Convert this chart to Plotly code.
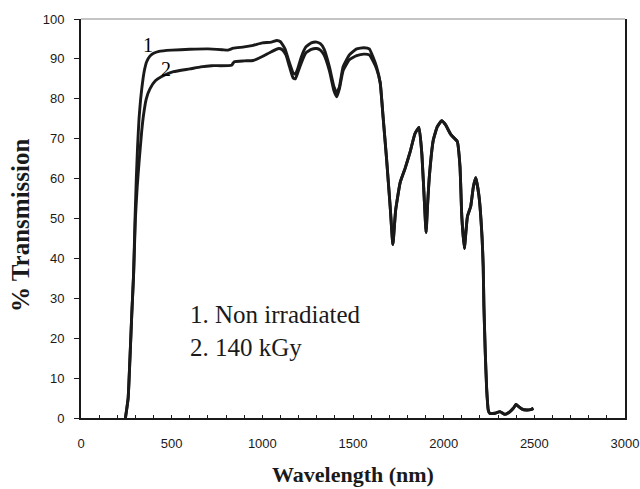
import plotly.graph_objects as go

# Wavelength (nm) and % transmission for the non-irradiated sample
wl_1 = [245, 260, 270, 280, 290, 298, 305, 312, 320, 328, 335, 342, 350, 362, 380, 400, 430,
        500, 600, 700, 780, 810, 840, 900, 950, 1000, 1050, 1080, 1100, 1125, 1150, 1170, 1182,
        1195, 1215, 1240, 1270, 1300, 1320, 1340, 1370, 1395, 1410, 1425, 1445, 1480, 1520, 1560,
        1590, 1610, 1630, 1650, 1665, 1685, 1705, 1720, 1735, 1760, 1787, 1815, 1842, 1864, 1880,
        1895, 1903, 1912, 1921, 1943, 1965, 1989, 2010, 2040, 2075, 2090, 2100, 2114, 2131, 2149,
        2164, 2177, 2195, 2212, 2218, 2222, 2229, 2237, 2246, 2254, 2283, 2310, 2338, 2366, 2385,
        2399, 2415, 2430, 2457, 2480, 2495]
tr_1 = [0, 5, 15, 26, 36, 50, 60, 68, 75, 79.5, 82.5, 85, 87.2, 89.3, 90.7, 91.4, 91.9,
        92.2, 92.4, 92.5, 92.3, 92.2, 92.7, 93, 93.4, 94, 94.2, 94.6, 94.3, 92.5, 89, 86.5, 86.2,
        87.5, 90.5, 93, 94, 94.2, 93.8, 92.5, 88, 83, 81.5, 83, 88, 91, 92.5, 92.8,
        92.5, 90.5, 88, 84, 76, 65, 53, 43.5, 52, 59, 62.5, 66.7, 71.3, 72.8, 66,
        53, 46.5, 54, 60.5, 69.7, 73, 74.5, 73.5, 71, 69.3, 63, 50.5, 42.5, 50.5, 53,
        58, 60.2, 55.5, 45, 38, 28, 17, 7.4, 2, 1.2, 1.2, 1.6, 0.9, 1.6, 2.5,
        3.4, 2.8, 2.3, 2, 2.1, 2.4]

# Wavelength (nm) and % transmission after 140 kGy
wl_2 = [245, 260, 270, 280, 290, 300, 310, 320, 335, 345, 360, 380, 410, 445, 510, 600,
        660, 720, 830, 845, 900, 950, 1000, 1050, 1090, 1110, 1130, 1150, 1170, 1182, 1195, 1215,
        1240, 1270, 1300, 1320, 1340, 1370, 1395, 1410, 1425, 1445, 1480, 1520, 1560, 1590, 1610,
        1630, 1650, 1665, 1685, 1705, 1720, 1735, 1760, 1787, 1815, 1842, 1864, 1880,
        1895, 1903, 1912, 1921, 1943, 1965, 1989, 2010, 2040, 2075, 2090, 2100, 2114, 2131, 2149,
        2164, 2177, 2195, 2212, 2218, 2222, 2229, 2237, 2246, 2254, 2283, 2310, 2338, 2366, 2385,
        2399, 2415, 2430, 2457, 2480, 2495]
tr_2 = [0, 5, 15, 26, 36, 50, 58, 64, 72, 76, 80, 82.5, 84.5, 85.6, 86.8, 87.5,
        88, 88.3, 88.4, 89.3, 89.5, 89.6, 90.6, 91.8, 92.6, 92.3, 91, 88, 85.2, 85, 86.5, 89,
        91.5, 92.4, 92.6, 92.2, 91, 87, 82, 80.5, 82.5, 87, 89.8, 90.8, 91.2, 91, 89.5,
        87.5, 84, 76, 65, 53, 43.5, 52, 59, 62.5, 66.7, 71.3, 72.8, 66,
        53, 46.5, 54, 60.5, 69.7, 73, 74.5, 73.5, 71, 69.3, 63, 50.5, 42.5, 50.5, 53,
        58, 60.2, 55.5, 45, 38, 28, 17, 7.4, 2, 1.2, 1.2, 1.6, 0.9, 1.6, 2.5,
        3.4, 2.8, 2.3, 2, 2.1, 2.4]

x_ticks = [0, 500, 1000, 1500, 2000, 2500, 3000]
y_ticks = [0, 10, 20, 30, 40, 50, 60, 70, 80, 90, 100]
legend_lines = ["1. Non irradiated", "2. 140 kGy"]
x_title = "Wavelength (nm)"
y_title = "% Transmission"

serif = "Liberation Serif, Times New Roman, serif"
sans = "Liberation Sans, Arial, sans-serif"
ink = "#1a1a1a"

W, H = 640, 489
M = dict(l=81, r=15, t=19, b=71)

fig = go.Figure()
for wl, tr in ((wl_2, tr_2), (wl_1, tr_1)):
    fig.add_trace(go.Scatter(x=wl, y=tr, mode="lines",
                             line=dict(color=ink, width=2.9, shape="spline", smoothing=0.4),
                             showlegend=False, hoverinfo="skip"))

# curve numbers next to each trace
fig.add_annotation(x=372, y=93.6, text="1", showarrow=False,
                   font=dict(family=serif, size=20, color="#000000"))
fig.add_annotation(x=466, y=87.5, text="2", showarrow=False,
                   font=dict(family=serif, size=20, color="#000000"))
# key text inside the plot (one block, two lines)
fig.add_annotation(x=590, y=21.8, text="<br>".join(legend_lines), showarrow=False,
                   xanchor="left", yanchor="middle", align="left",
                   font=dict(family=serif, size=25, color=ink))

# axis titles, positioned in pixels relative to the plot area
pw = W - M["l"] - M["r"]
ph = H - M["t"] - M["b"]
fig.add_annotation(xref="paper", yref="paper", x=(353 - M["l"]) / pw, y=-(474 - (H - M["b"])) / ph,
                   text="<b>%s</b>" % x_title, showarrow=False, xanchor="center", yanchor="middle",
                   font=dict(family=serif, size=22, color=ink))
fig.add_annotation(xref="paper", yref="paper", x=-(M["l"] - 20) / pw, y=((H - M["b"]) - 225) / ph,
                   text="<b>%s</b>" % y_title, showarrow=False, textangle=-90,
                   xanchor="center", yanchor="middle",
                   font=dict(family=serif, size=25, color=ink))

# thin grey frame line along the top of the plot
fig.add_shape(type="line", xref="paper", yref="paper", x0=0, x1=1, y0=1, y1=1,
              line=dict(color="#8a8a8a", width=1.2))

fig.update_layout(
    width=W, height=H,
    margin=M,
    paper_bgcolor="white", plot_bgcolor="white",
    xaxis=dict(range=[0, 3000], tickvals=x_ticks, ticktext=[str(v) for v in x_ticks],
               ticks="inside", ticklen=3, tickwidth=1.2, tickcolor=ink,
               minor=dict(dtick=100, ticks="inside", ticklen=3, tickwidth=1.2, tickcolor=ink),
               showline=True, linecolor=ink, linewidth=2, mirror=False, automargin=False,
               showgrid=False, zeroline=False, ticklabelstandoff=12,
               tickfont=dict(family=sans, size=13, color=ink)),
    yaxis=dict(range=[0, 100], tickvals=y_ticks, ticktext=[str(v) for v in y_ticks],
               ticks="outside", ticklen=5, tickwidth=1.2, tickcolor=ink,
               showline=True, linecolor=ink, linewidth=2, mirror=True, automargin=False,
               showgrid=False, zeroline=False, ticklabelstandoff=7,
               tickfont=dict(family=sans, size=13, color=ink)),
)

fig.write_html("out.html")
